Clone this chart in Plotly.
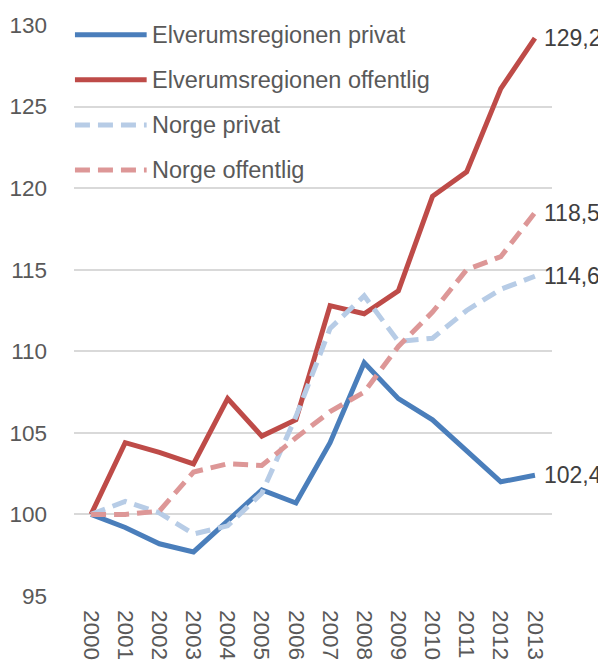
import plotly.graph_objects as go

# Data
years = [str(y) for y in range(2000, 2014)]

elverum_privat = [100, 99.2, 98.2, 97.7, 99.6, 101.5, 100.7, 104.4, 109.3, 107.1, 105.8, 103.9, 102.0, 102.4]
elverum_offentlig = [100, 104.4, 103.8, 103.1, 107.1, 104.8, 105.8, 112.8, 112.3, 113.7, 119.5, 121.0, 126.1, 129.2]
norge_privat = [100, 100.8, 100.1, 98.8, 99.3, 101.3, 106.0, 111.4, 113.4, 110.6, 110.8, 112.5, 113.8, 114.6]
norge_offentlig = [100, 100.0, 100.2, 102.6, 103.1, 103.0, 104.7, 106.3, 107.5, 110.3, 112.4, 115.0, 115.8, 118.5]

series_names = ["Elverumsregionen privat", "Elverumsregionen offentlig", "Norge privat", "Norge offentlig"]
series_values = [elverum_privat, elverum_offentlig, norge_privat, norge_offentlig]
colors = ['#4a7ebb', '#be4b48', '#b7cce6', '#dd9797']
dashes = ['solid', 'solid', '15px,8px', '15px,8px']

FONT = "Liberation Sans, Arial, sans-serif"

fig = go.Figure()

for name, vals, col, dash in zip(series_names, series_values, colors, dashes):
    fig.add_trace(go.Scatter(
        x=years, y=vals, name=name, mode='lines',
        line=dict(color=col, width=5, dash=dash),
        showlegend=False,
    ))
    # value label at the end of each line (x given as category index)
    fig.add_annotation(
        x=len(years) - 1, y=vals[-1], text=f"{vals[-1]:.1f}".replace('.', ','),
        showarrow=False, xanchor='left', yanchor='middle', xshift=7,
        font=dict(family=FONT, size=23, color='#404040'),
    )

# legend drawn by hand so the sample lines are long like the original
legend_rows = [0.983, 0.904, 0.825, 0.746]
for name, col, dash, ly in zip(series_names, colors, dashes, legend_rows):
    fig.add_shape(
        type='line', xref='paper', yref='paper',
        x0=0.002, x1=0.152, y0=ly, y1=ly,
        line=dict(color=col, width=5, dash=dash),
    )
    fig.add_annotation(
        xref='paper', yref='paper', x=0.16, y=ly, text=name,
        showarrow=False, xanchor='left', yanchor='middle',
        font=dict(family=FONT, size=23.5, color='#595959'),
    )

fig.update_layout(
    width=606, height=662,
    margin=dict(l=66, r=62, t=17, b=74),
    plot_bgcolor='white', paper_bgcolor='white',
    font=dict(family=FONT, size=22, color='#595959'),
    showlegend=False,
)
fig.update_xaxes(
    type='category', range=[-0.5, len(years) - 0.5], autorange=False,
    tickangle=90, showgrid=False, showline=False,
    ticks='', automargin=False, ticklabelstandoff=13,
    tickfont=dict(family=FONT, size=22.5, color='#595959'),
)
fig.update_yaxes(
    range=[95, 130], dtick=5, showgrid=True, gridcolor='#d9d9d9', gridwidth=1.5,
    zeroline=False, showline=False, ticks='', automargin=False,
    ticklabelstandoff=26,
    tickfont=dict(family=FONT, size=22.5, color='#595959'),
)

fig.write_html("out.html")
